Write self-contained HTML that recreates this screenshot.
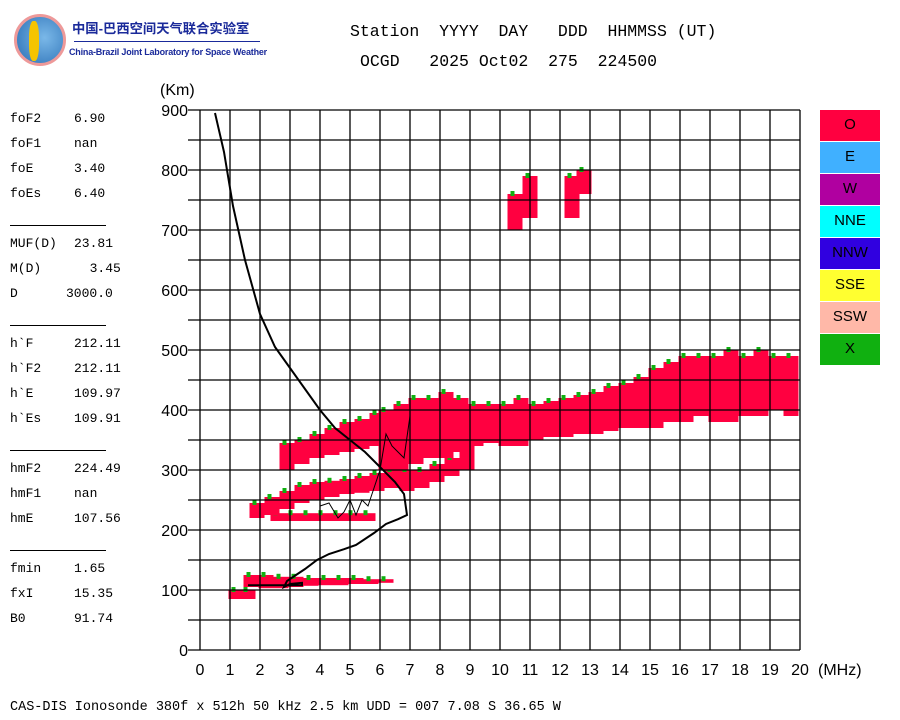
<!DOCTYPE html>
<html><head><meta charset="utf-8"><style>
body{margin:0;background:#fff;width:900px;height:720px;overflow:hidden;position:relative;font-family:"Liberation Sans","Noto Sans CJK SC",sans-serif}
.m{font-family:"Liberation Mono",monospace;position:absolute;font-size:13px;color:#000;white-space:pre}
.v{font-family:"Liberation Mono",monospace;position:absolute;font-size:13px;color:#000;white-space:pre;left:74px}
.hr{position:absolute;left:10px;width:96px;height:1px;background:#000}
</style></head><body>
<div style="position:absolute;left:14px;top:14px;width:52px;height:52px;border-radius:50%;border:3px solid #e99;background:radial-gradient(circle at 60% 45%,#7ab8e8,#2a6fb5);box-sizing:border-box"><div style="position:absolute;left:12px;top:4px;width:10px;height:40px;background:#f5c400;border-radius:40%"></div></div>
<div style="position:absolute;left:72px;top:18px;font-size:13.3px;color:#1a2a9a;font-weight:bold">中国-巴西空间天气联合实验室</div>
<div style="position:absolute;left:74px;top:41px;width:186px;height:1px;background:#1a2a9a"></div>
<div style="position:absolute;left:69px;top:47px;font-size:9px;color:#1a2a9a;font-weight:bold;letter-spacing:-0.2px">China-Brazil Joint Laboratory for Space Weather</div>
<div class="m" style="left:350px;top:22px;font-size:16.5px">Station  YYYY  DAY   DDD  HHMMSS (UT)</div>
<div class="m" style="left:360px;top:52px;font-size:16.5px">OCGD   2025 Oct02  275  224500</div>

<div>
<div class="m" style="left:10px;top:111px">foF2</div><div class="v" style="top:111px">6.90</div>
<div class="m" style="left:10px;top:136px">foF1</div><div class="v" style="top:136px">nan</div>
<div class="m" style="left:10px;top:161px">foE</div><div class="v" style="top:161px">3.40</div>
<div class="m" style="left:10px;top:186px">foEs</div><div class="v" style="top:186px">6.40</div>
<div class="hr" style="top:225px"></div>
<div class="m" style="left:10px;top:236px">MUF(D)</div><div class="v" style="top:236px">23.81</div>
<div class="m" style="left:10px;top:261px">M(D)</div><div class="v" style="top:261px">  3.45</div>
<div class="m" style="left:10px;top:286px">D</div><div class="v" style="left:66px;top:286px">3000.0</div>
<div class="hr" style="top:325px"></div>
<div class="m" style="left:10px;top:336px">h`F</div><div class="v" style="top:336px">212.11</div>
<div class="m" style="left:10px;top:361px">h`F2</div><div class="v" style="top:361px">212.11</div>
<div class="m" style="left:10px;top:386px">h`E</div><div class="v" style="top:386px">109.97</div>
<div class="m" style="left:10px;top:411px">h`Es</div><div class="v" style="top:411px">109.91</div>
<div class="hr" style="top:450px"></div>
<div class="m" style="left:10px;top:461px">hmF2</div><div class="v" style="top:461px">224.49</div>
<div class="m" style="left:10px;top:486px">hmF1</div><div class="v" style="top:486px">nan</div>
<div class="m" style="left:10px;top:511px">hmE</div><div class="v" style="top:511px">107.56</div>
<div class="hr" style="top:550px"></div>
<div class="m" style="left:10px;top:561px">fmin</div><div class="v" style="top:561px">1.65</div>
<div class="m" style="left:10px;top:586px">fxI</div><div class="v" style="top:586px">15.35</div>
<div class="m" style="left:10px;top:611px">B0</div><div class="v" style="top:611px">91.74</div>
</div>

<div id="legend"></div>
<div class="m" style="left:10px;top:700px;font-size:13.5px">CAS-DIS Ionosonde 380f x 512h 50 kHz 2.5 km UDD = 007 7.08 S 36.65 W</div>

<svg id="chart" width="900" height="720" style="position:absolute;left:0;top:0" xmlns="http://www.w3.org/2000/svg"></svg>
<script>
const xTicks=[0,1,2,3,4,5,6,7,8,9,10,11,12,13,14,15,16,17,18,19,20];
const yTicks=[0,100,200,300,400,500,600,700,800,900];
const legendLabels=['O','E','W','NNE','NNW','SSE','SSW','X'];
const legendColors=['#ff0040','#40b0ff','#b000a0','#00ffff','#3000e0','#ffff30','#ffb8a8','#10b010'];
// echo bands: [freq MHz, low km, high km]
const bandE=[[1.7,105,125],[2.2,103,125],[2.7,103,122],[3.2,105,122],[3.7,107,120],[4.2,108,120],[4.7,108,120],[5.2,110,120],[5.7,110,118],[6.2,112,118]];
const bandLow=[[1.2,85,100],[1.6,85,100]];
const bandEs2=[[2.6,215,228],[3.1,215,228],[3.6,215,228],[4.1,215,228],[4.6,215,228],[5.1,215,228],[5.6,215,228]];
const bandF1=[[1.9,220,245],[2.4,225,255],[2.9,235,265],[3.4,245,275],[3.9,250,280],[4.4,255,282],[4.9,260,285],[5.4,262,290],[5.9,265,295],[6.4,270,300],[6.9,265,300],[7.4,270,300],[7.9,280,310],[8.4,290,320],[8.9,300,340]];
const bandF2=[[2.9,300,345],[3.4,310,350],[3.9,320,360],[4.4,325,370],[4.9,330,380],[5.4,335,385],[5.9,340,395]];
const bandDense=[[6.2,300,400],[6.7,300,410],[7.2,310,420],[7.7,320,420],[8.2,320,430],[8.7,330,420],[9.2,340,410]];
const bandMid=[[9.7,345,410],[10.2,340,410],[10.7,340,420],[11.2,350,410],[11.7,355,415],[12.2,355,420],[12.7,360,425],[13.2,360,430],[13.7,365,440],[14.2,370,445],[14.7,370,455]];
const bandHigh=[[15.2,370,470],[15.7,380,480],[16.2,380,490],[16.7,390,490],[17.2,380,490],[17.7,380,500],[18.2,390,490],[18.7,390,500],[19.2,400,490],[19.7,390,490]];
const bandSpor=[[10.5,700,760],[11,720,790],[12.4,720,790],[12.8,760,800]];
const profF=[0.5,0.8,1.1,1.5,2,2.5,3,3.5,4,4.5,5,5.5,6,6.5,6.8,6.9,6.6,6.2,5.8,5.2,4.8,4.3,3.9,3.5,3.2,2.9,2.8,3.0,3.4,3.4,1.6];
const profH=[895,830,740,650,560,505,470,435,400,370,350,330,305,280,260,225,218,210,195,175,168,160,150,135,125,115,105,110,112,108,108];
const traceF=[4,4.3,4.6,4.8,5.0,5.2,5.4,5.6,5.8,6,6.2,6.4,6.6,6.8,7];
const traceH=[240,245,220,230,250,225,250,240,270,300,360,340,330,320,390];

const X=f=>200+30*f, Y=h=>650-0.6*h;
const svg=document.getElementById('chart');const NS='http://www.w3.org/2000/svg';
function mk(t,a,p){const e=document.createElementNS(NS,t);for(const k in a)e.setAttribute(k,a[k]);(p||svg).appendChild(e);return e;}
const echoes=mk('g',{});


function drawBand(b,name){b.forEach(d=>{const r=mk('rect',{x:X(d[0]-0.25),y:Y(d[2]),width:15,height:Y(d[1])-Y(d[2]),fill:'#ff0040'},echoes);


const g=mk('rect',{x:X(d[0]-0.15),y:Y(d[2])-3,width:4,height:5,fill:'#10b010'},echoes);

});}
drawBand(bandE,'echo-e');drawBand(bandLow,'echo-low');drawBand(bandEs2,'echo-es2');drawBand(bandF1,'echo-f-lower');drawBand(bandF2,'echo-f-upper');drawBand(bandDense,'echo-dense');drawBand(bandMid,'echo-mid');drawBand(bandHigh,'echo-high');drawBand(bandSpor,'echo-sporadic');
for(const t of xTicks){const l=mk('line',{x1:X(t),x2:X(t),y1:Y(900),y2:Y(0),stroke:'#000','stroke-width':1.3});


const tx=mk('text',{x:X(t),y:675,'font-size':16,'text-anchor':'middle','font-family':'Liberation Sans,sans-serif'});tx.textContent=t;

}
for(let h=0;h<=900;h+=50){const l=mk('line',{x1:X(0)-12,x2:X(20),y1:Y(h),y2:Y(h),stroke:'#000','stroke-width':1.3});

}
for(const t of yTicks){const tx=mk('text',{x:188,y:Y(t)+6,'font-size':16,'text-anchor':'end','font-family':'Liberation Sans,sans-serif'});tx.textContent=t;

}
const xt=mk('text',{x:818,y:675,'font-size':16,'font-family':'Liberation Sans,sans-serif'});xt.textContent='(MHz)';


const yt=mk('text',{x:160,y:95,'font-size':16,'font-family':'Liberation Sans,sans-serif'});yt.textContent='(Km)';


const pr=mk('polyline',{points:profF.map((f,i)=>X(f)+','+Y(profH[i])).join(' '),fill:'none',stroke:'#000','stroke-width':2});


const tr=mk('polyline',{points:traceF.map((f,i)=>X(f)+','+Y(traceH[i])).join(' '),fill:'none',stroke:'#000','stroke-width':1});


const lg=document.getElementById('legend');
legendLabels.forEach((n,i)=>{const d=document.createElement('div');


d.style.cssText=`position:absolute;left:820px;top:${110+32*i}px;width:60px;height:31px;background:${legendColors[i]};font-size:15px;text-align:center;line-height:29px;color:#000`;d.textContent=n;lg.appendChild(d);});
</script>
</body></html>
